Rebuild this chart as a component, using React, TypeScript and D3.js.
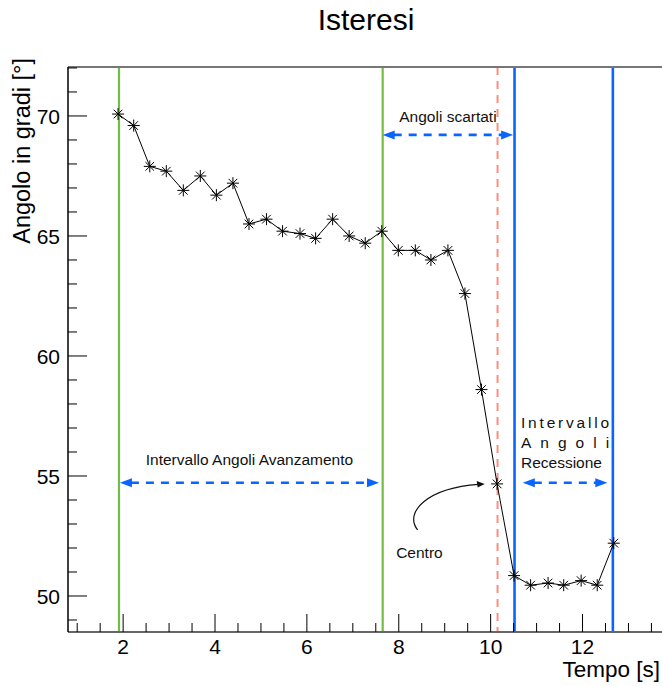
import React from "react";
import * as d3 from "d3";

// Data
const tempo = [1.89, 2.23, 2.58, 2.94, 3.31, 3.68, 4.03, 4.39, 4.74, 5.12, 5.47, 5.85, 6.19, 6.56, 6.92, 7.27, 7.63, 7.99, 8.36, 8.70, 9.07, 9.44, 9.80, 10.14, 10.51, 10.87, 11.25, 11.59, 11.97, 12.32, 12.68];
const angolo = [70.08, 69.6, 67.9, 67.7, 66.9, 67.5, 66.7, 67.2, 65.5, 65.7, 65.2, 65.1, 64.9, 65.7, 65.0, 64.7, 65.2, 64.4, 64.4, 64.0, 64.4, 62.6, 58.6, 54.67, 50.85, 50.45, 50.54, 50.45, 50.64, 50.45, 52.2];
const xMajorTicks = [2, 4, 6, 8, 10, 12];
const yMajorTicks = [50, 55, 60, 65, 70];
const greenLines = [1.91, 7.65];
const blueLines = [10.52, 12.66];
const centroLine = [10.15];

const W = 662;
const H = 686;
const FONT = "'Liberation Sans', Arial, Helvetica, sans-serif";

export default function App() {
  const x = d3.scaleLinear().domain([0.8, 13.73]).range([68, 662]);
  const y = d3.scaleLinear().domain([48.5, 72.04]).range([632, 67]);
  const [x0, x1] = x.range();
  const [y0, y1] = y.range();

  const xMinor = d3.range(1, 13.75, 0.5).filter((v) => !xMajorTicks.includes(v));
  const yMinor = d3.range(49, 72.5, 1).filter((v) => !yMajorTicks.includes(v));

  const line = d3
    .line<number>()
    .x((_, i) => x(tempo[i]))
    .y((d) => y(d));

  const blue = "#0a64ff";
  const green = "#74bd44";
  const red = "#fa8f7e";

  const dblArrow = (xa: number, xb: number, yv: number, key: string) => {
    const ya = y(yv);
    const pa = x(xa);
    const pb = x(xb);
    const L = 12;
    const h = 4.5;
    return (
      <g key={key}>
        <line x1={pa + L - 1} x2={pb - L + 1} y1={ya} y2={ya} stroke={blue} strokeWidth={2.6} strokeDasharray="8,7" />
        <path d={`M${pa},${ya} L${pa + L},${ya - h} L${pa + L},${ya + h} Z`} fill={blue} />
        <path d={`M${pb},${ya} L${pb - L},${ya - h} L${pb - L},${ya + h} Z`} fill={blue} />
      </g>
    );
  };

  const star = (cx: number, cy: number, i: number) => {
    const r = 6;
    const d = r * 0.72;
    return (
      <g key={i} stroke="#000" strokeWidth={1}>
        <line x1={cx - r} x2={cx + r} y1={cy} y2={cy} />
        <line x1={cx} x2={cx} y1={cy - r} y2={cy + r} />
        <line x1={cx - d} x2={cx + d} y1={cy - d} y2={cy + d} />
        <line x1={cx - d} x2={cx + d} y1={cy + d} y2={cy - d} />
      </g>
    );
  };

  // Centro curved arrow (data coords)
  const cS = [x(8.41), y(52.75)];
  const cE = [x(9.87), y(54.67)];
  const c1 = [cS[0] - 14, cS[1] - 18];
  const c2 = [cS[0] + 10, cS[1] - 42];

  return (
    <svg
      width={W}
      height={H}
      style={{ position: "absolute", left: 0, top: 0, background: "#fff" }}
      fontFamily={FONT}
    >
      <rect x={0} y={0} width={W} height={H} fill="#fff" />
      {/* title */}
      <text x={366} y={30} fontSize={30} textAnchor="middle" fill="#000">
        Isteresi
      </text>

      {/* vertical lines */}
      {greenLines.map((v, i) => (
        <line key={"g" + i} x1={x(v)} x2={x(v)} y1={y1} y2={y0} stroke={green} strokeWidth={2.2} />
      ))}
      {blueLines.map((v, i) => (
        <line key={"b" + i} x1={x(v)} x2={x(v)} y1={y1} y2={y0} stroke={blue} strokeWidth={2.6} />
      ))}
      {centroLine.map((v, i) => (
        <line key={"r" + i} x1={x(v)} x2={x(v)} y1={y1} y2={y0} stroke={red} strokeWidth={2} strokeDasharray="8,6" />
      ))}

      {/* frame */}
      <line x1={x0} x2={x1} y1={y1} y2={y1} stroke="#777" strokeWidth={2} />
      <line x1={x0} x2={x1} y1={y0} y2={y0} stroke="#666" strokeWidth={2} />
      <line x1={x0} x2={x0} y1={y1} y2={y0} stroke="#000" strokeWidth={1.5} />

      {/* x ticks */}
      {xMajorTicks.map((v) => (
        <g key={"xm" + v}>
          <line x1={x(v)} x2={x(v)} y1={y0} y2={y0 - 18} stroke="#000" strokeWidth={1} />
          <text x={x(v)} y={654} fontSize={21} textAnchor="middle" fill="#000">
            {v}
          </text>
        </g>
      ))}
      {xMinor.map((v) => (
        <line key={"xn" + v} x1={x(v)} x2={x(v)} y1={y0} y2={y0 - 9} stroke="#000" strokeWidth={1} />
      ))}
      {/* y ticks */}
      {yMajorTicks.map((v) => (
        <g key={"ym" + v}>
          <line x1={x0} x2={x0 + 19} y1={y(v)} y2={y(v)} stroke="#000" strokeWidth={1} />
          <text x={60} y={y(v)} dy="0.36em" fontSize={21} textAnchor="end" fill="#000">
            {v}
          </text>
        </g>
      ))}
      {yMinor.map((v) => (
        <line key={"yn" + v} x1={x0} x2={x0 + 9} y1={y(v)} y2={y(v)} stroke="#000" strokeWidth={1} />
      ))}

      {/* axis titles */}
      <text x={660} y={677} fontSize={22.5} textAnchor="end" fill="#000">
        Tempo [s]
      </text>
      <text
        transform={`translate(30,58) rotate(-90)`}
        fontSize={23.5}
        textAnchor="end"
        fill="#000"
      >
        Angolo in gradi [°]
      </text>

      {/* data */}
      <path d={line(angolo) || ""} fill="none" stroke="#000" strokeWidth={1} />
      {angolo.map((v, i) => star(x(tempo[i]), y(v), i))}

      {/* annotations */}
      <text x={x(9.07)} y={y(69.75)} fontSize={15.5} textAnchor="middle" fill="#111">
        Angoli scartati
      </text>
      {dblArrow(7.65, 10.49, 69.21, "a1")}

      <text x={x(4.75)} y={y(55.46)} fontSize={15.5} textAnchor="middle" fill="#111">
        Intervallo Angoli Avanzamento
      </text>
      {dblArrow(1.93, 7.57, 54.72, "a2")}

      <text x={x(10.66)} y={y(57.0)} fontSize={15.5} fill="#111" textLength={x(12.58) - x(10.66)} lengthAdjust="spacing">
        Intervallo
      </text>
      <text x={x(10.66)} y={y(56.17)} fontSize={15.5} fill="#111" textLength={x(12.58) - x(10.66)} lengthAdjust="spacing">
        Angoli
      </text>
      <text x={x(10.66)} y={y(55.33)} fontSize={15.5} fill="#111">
        Recessione
      </text>
      {dblArrow(10.7, 12.54, 54.72, "a3")}

      <text x={x(8.45)} y={y(51.58)} fontSize={15.5} textAnchor="middle" fill="#111">
        Centro
      </text>
      <path
        d={`M${cS[0]},${cS[1]} C${c1[0]},${c1[1]} ${c2[0]},${c2[1]} ${cE[0] - 6},${cE[1] + 0.5}`}
        fill="none"
        stroke="#111"
        strokeWidth={1.2}
      />
      <path
        d={`M${cE[0]},${cE[1]} L${cE[0] - 8},${cE[1] - 3} L${cE[0] - 7},${cE[1] + 3.5} Z`}
        fill="#111"
      />
    </svg>
  );
}
